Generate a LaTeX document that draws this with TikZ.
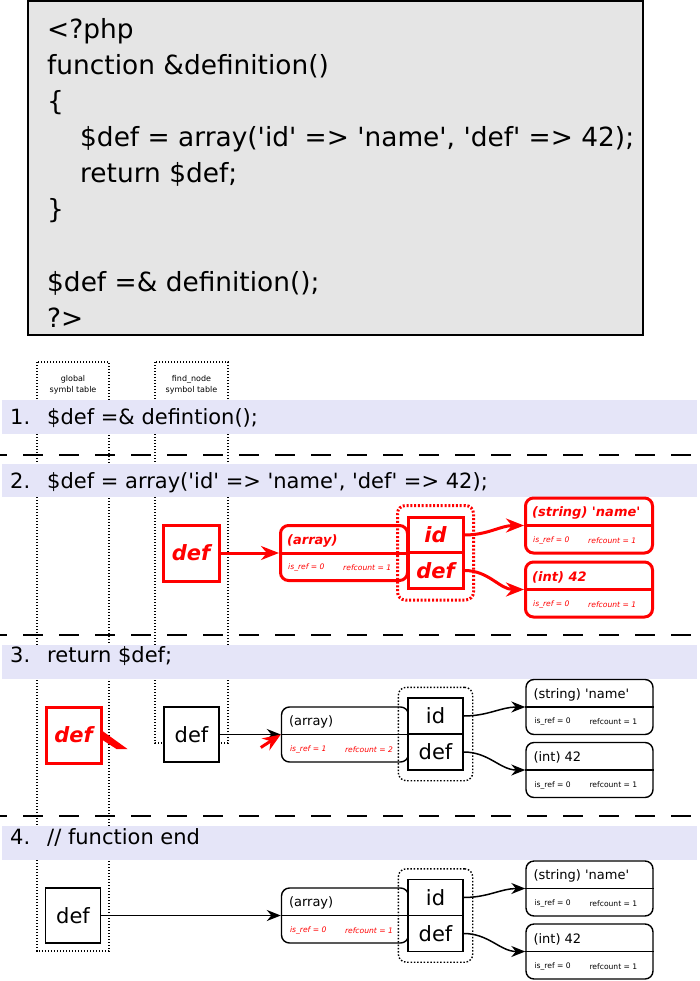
\documentclass[tikz,border=0pt]{standalone}
\usepackage{fontspec}
\setmainfont{DejaVu Sans}
\usetikzlibrary{arrows.meta,calc,fit}

\definecolor{codegray}{RGB}{229,229,229}
\definecolor{steplav}{RGB}{229,229,248}

% one value box: name, centre, box style, head style, head text, sub style, is_ref, refcount
\newcommand{\valbox}[8]{%
  \node[#3] (#1) at #2 {};
  \draw[#3] (#1.west) -- (#1.east);
  \node[#4] (#1-head) at ($(#1.west)+(8,-12.5)$) {#5};
  \node[#6] (#1-isref) at ($(#1.west)+(9,15)$) {is\_ref = #7};
  \node[#6] (#1-rc) at ($(#1.west)+(64,15)$) {refcount = #8};
}

\tikzset{
  codetext/.style={anchor=base west, inner sep=0pt, font=\fontsize{26.4}{33}\selectfont},
  steptext/.style={anchor=base west, inner sep=0pt, font=\fontsize{21}{24}\selectfont},
  stepbar/.style={fill=steplav},
  cut/.style={line width=1.6pt, dash pattern=on 20pt off 16pt, dash phase=13pt},
  column/.style={draw, line width=1.2pt, dash pattern=on 1.2pt off 1.8pt},
  collabel/.style={align=center, inner sep=0pt, font=\fontsize{8}{10.5}\selectfont},
  plainsym/.style={draw, fill=white, line width=1.4pt, minimum width=55pt, minimum height=55pt,
    inner sep=0pt, font=\fontsize{21}{24}\selectfont},
  hotsym/.style={plainsym, draw=red, text=red, line width=3pt, font=\fontsize{21}{24}\selectfont\bfseries\itshape},
  plaincell/.style={plainsym, minimum height=36pt},
  hotcell/.style={hotsym, minimum height=36pt},
  plainhash/.style={draw, rounded corners=8pt, inner xsep=9pt, inner ysep=10pt, line width=1.4pt,
    dash pattern=on 1.5pt off 1.8pt},
  hothash/.style={plainhash, draw=red, line width=3pt, dash pattern=on 2pt off 1.8pt},
  plainbox/.style={draw, rounded corners=8pt, line width=1.4pt, minimum width=127pt, minimum height=55pt, inner sep=0pt},
  hotbox/.style={plainbox, draw=red, line width=3pt},
  plainhead/.style={anchor=west, inner sep=0pt, font=\fontsize{13}{15}\selectfont},
  hothead/.style={plainhead, text=red, font=\fontsize{13}{15}\selectfont\bfseries\itshape},
  plainsub/.style={anchor=west, inner sep=0pt, font=\fontsize{7.6}{9}\selectfont},
  redsub/.style={plainsub, text=red, font=\fontsize{7.6}{9}\selectfont\itshape},
  plainarrow/.style={draw, line width=1.5pt, -{Stealth[length=14pt,width=11pt]}},
  hotarrow/.style={draw=red, line width=3pt, -{Stealth[length=18pt,width=14pt]}},
}

\newcommand{\sq}{\textquotesingle}

\begin{document}
\begin{tikzpicture}[x=1pt,y=-1pt]
\useasboundingbox (0,0) rectangle (700,981);

% the php code
\draw[line width=1.5pt, fill=codegray] (28,1) rectangle (643,335);
\node[codetext] (c1) at (47,39) {<?php};
\node[codetext] (c2) at (47,75) {function \&definition()};
\node[codetext] (c3) at (47,111) {\{};
\node[codetext] (c4) at (80,147) {\$def = array(\sq id\sq{} => \sq name\sq, \sq def\sq{} => 42);};
\node[codetext] (c5) at (80,183) {return \$def;};
\node[codetext] (c6) at (47,219) {\}};
\node[codetext] (c7) at (47,291) {\$def =\& definition();};
\node[codetext] (c8) at (47,327) {?>};

% symbol tables
\draw[column] (37,362) rectangle (109,951);
\draw[column] (155,362) rectangle (228,743);
\node[collabel] (glob) at (73,385) {global\\symbl table};
\node[collabel] (find) at (191.5,385) {find\_node\\symbol table};

% separators
\draw[cut] (0,455) -- (700,455);
\draw[cut] (0,635) -- (700,635);
\draw[cut] (0,816) -- (700,816);

% step bars
\fill[stepbar] (2,400) rectangle (697,434);
\fill[stepbar] (2,464) rectangle (697,497);
\fill[stepbar] (2,645) rectangle (697,679);
\fill[stepbar] (2,826) rectangle (697,860);
\node[steptext] (n1) at (10,424) {1.};
\node[steptext] (t1) at (47,424) {\$def =\& defintion();};
\node[steptext] (n2) at (10,488) {2.};
\node[steptext] (t2) at (47,488) {\$def = array(\sq id\sq{} => \sq name\sq, \sq def\sq{} => 42);};
\node[steptext] (n3) at (10,662) {3.};
\node[steptext] (t3) at (47,662) {return \$def;};
\node[steptext] (n4) at (10,844) {4.};
\node[steptext] (t4) at (47,844) {// function end};

% step 2
\node[hotsym, minimum width=56pt, minimum height=56pt] (d2) at (191,553) {def};
\valbox{a2}{(344,553)}{hotbox}{hothead}{(array)}{redsub}{0}{1}
\node[hotcell] (h2id) at (435.5,535) {id};
\node[hotcell] (h2def) at (435.5,570.5) {def};
\node[hothash, fit=(h2id)(h2def)] (h2) {};
\valbox{s2}{(589,525.5)}{hotbox}{hothead}{(string) \sq name\sq}{redsub}{0}{1}
\valbox{i2}{(589,589.5)}{hotbox}{hothead}{(int) 42}{redsub}{0}{1}
\draw[hotarrow] (d2.east) -- (a2.west);
\draw[hotarrow] (h2id.east) to[out=0,in=180] (s2.west);
\draw[hotarrow] (h2def.east) to[out=0,in=180] (i2.west);

% step 3
\node[hotsym, minimum height=56pt] (g3) at (73.5,735) {def};
\fill[red] ($(g3.east)+(0,-4)$) -- ++(25,18) -- ++(-11,0) -- ++(-14,-9) -- cycle;
\node[plainsym] (f3) at (191.5,734.5) {def};
\valbox{a3}{(345,734.5)}{plainbox}{plainhead}{(array)}{redsub}{1}{2}
\node[plaincell] (h3id) at (435.5,716) {id};
\node[plaincell] (h3def) at (435.5,752) {def};
\node[plainhash, fit=(h3id)(h3def)] (h3) {};
\valbox{s3}{(589.5,707)}{plainbox}{plainhead}{(string) \sq name\sq}{plainsub}{0}{1}
\valbox{i3}{(589.5,770)}{plainbox}{plainhead}{(int) 42}{plainsub}{0}{1}
\draw[plainarrow] (f3.east) -- (a3.west);
\draw[hotarrow] ($(a3.west)+(-20,13)$) -- (a3.west);
\draw[plainarrow] (h3id.east) to[out=0,in=180] (s3.west);
\draw[plainarrow] (h3def.east) to[out=0,in=180] (i3.west);

% step 4
\node[plainsym] (g4) at (73,915.5) {def};
\valbox{a4}{(345,915.5)}{plainbox}{plainhead}{(array)}{redsub}{0}{1}
\node[plaincell] (h4id) at (435.5,897.5) {id};
\node[plaincell] (h4def) at (435.5,933.5) {def};
\node[plainhash, fit=(h4id)(h4def)] (h4) {};
\valbox{s4}{(589.5,888.5)}{plainbox}{plainhead}{(string) \sq name\sq}{plainsub}{0}{1}
\valbox{i4}{(589.5,951.5)}{plainbox}{plainhead}{(int) 42}{plainsub}{0}{1}
\draw[plainarrow] (g4.east) -- (a4.west);
\draw[plainarrow] (h4id.east) to[out=0,in=180] (s4.west);
\draw[plainarrow] (h4def.east) to[out=0,in=180] (i4.west);
\end{tikzpicture}
\end{document}
